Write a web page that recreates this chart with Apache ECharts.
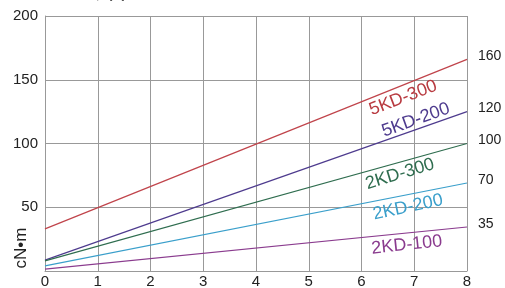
<!DOCTYPE html>
<html><head><meta charset="utf-8">
<script src="https://cdn.jsdelivr.net/npm/echarts@6/dist/echarts.min.js"></script>
<style>html,body{margin:0;padding:0;background:#fff}#c{width:505px;height:288px}</style>
</head><body><div id="c"></div>
<script>
const xValues = [0, 8];
const seriesNames = ['5KD-300', '5KD-200', '2KD-300', '2KD-200', '2KD-100'];
const s5KD300 = [33, 166];
const s5KD200 = [8.5, 125];
const s2KD300 = [8, 100];
const s2KD200 = [4, 69];
const s2KD100 = [1.5, 34.5];
const rightLabels = ['160', '120', '100', '70', '35'];
const yTicks = [50, 100, 150, 200];
const xTicks = [0, 1, 2, 3, 4, 5, 6, 7, 8];
const yUnit = 'cN•m';
// label anchor points in data units [x, y]
const nameAnchors = [[6.79, 135.7], [7.03, 118.4], [6.73, 76], [6.88, 50], [6.86, 20.4]];
const nameAngles = [21, 20, 17, 12, 6];

const colors = ['#c0444b', '#4e3b8e', '#2f6d4f', '#3a9fcb', '#8a3b8e'];
const textColors = ['#b83a40', '#4e3b8e', '#2f6d4f', '#3a9fcb', '#8a3b8e'];
const allData = [s5KD300, s5KD200, s2KD300, s2KD200, s2KD100];
const font = 'Liberation Sans, Arial, sans-serif';

const chart = echarts.init(document.getElementById('c'));
const series = allData.map((d, i) => ({
  type: 'line',
  name: seriesNames[i],
  data: d.map((v, j) => [xValues[j], v]),
  symbol: 'none',
  silent: true,
  animation: false,
  lineStyle: { color: colors[i], width: 1.2 },
  endLabel: {
    show: true, formatter: () => rightLabels[i], color: '#222',
    fontSize: 14, fontFamily: font, distance: 11, offset: [0, -3]
  },
  markPoint: {
    symbol: 'circle', symbolSize: 0, animation: false,
    data: [{ coord: nameAnchors[i] }],
    label: {
      show: true, formatter: seriesNames[i], position: 'inside',
      rotate: nameAngles[i], color: textColors[i], fontSize: 18, fontFamily: font
    }
  }
}));

chart.setOption({
  animation: false,
  grid: { left: 45, right: 38, top: 16, bottom: 17, containLabel: false, outerBoundsMode: 'none' },
  xAxis: {
    type: 'value', min: 0, max: 8, interval: 1,
    axisLine: { show: true, lineStyle: { color: '#999', width: 1 } },
    axisTick: { show: false },
    splitLine: { show: true, lineStyle: { color: '#999', width: 1 } },
    axisLabel: { color: '#222', fontSize: 15, fontFamily: font, margin: 3,
      formatter: v => xTicks.includes(v) ? String(v) : '' }
  },
  yAxis: {
    type: 'value', min: 0, max: 200, interval: 50,
    axisLine: { show: true, lineStyle: { color: '#999', width: 1 } },
    axisTick: { show: false },
    splitLine: { show: true, lineStyle: { color: '#999', width: 1 } },
    axisLabel: { color: '#222', fontSize: 15, fontFamily: font, margin: 7,
      formatter: v => yTicks.includes(v) ? String(v) : '' }
  },
  graphic: [{
    type: 'text', left: 45, top: -15,
    style: { text: '■トルク図', fill: '#222', fontSize: 16, fontWeight: 'bold', fontFamily: 'Noto Sans CJK JP' }
  }, {
    type: 'text', x: 21, y: 248, rotation: Math.PI / 2,
    style: { text: yUnit, fill: '#222', fontSize: 17, fontFamily: font, align: 'center', verticalAlign: 'middle' }
  }],
  series
});
</script></body></html>
